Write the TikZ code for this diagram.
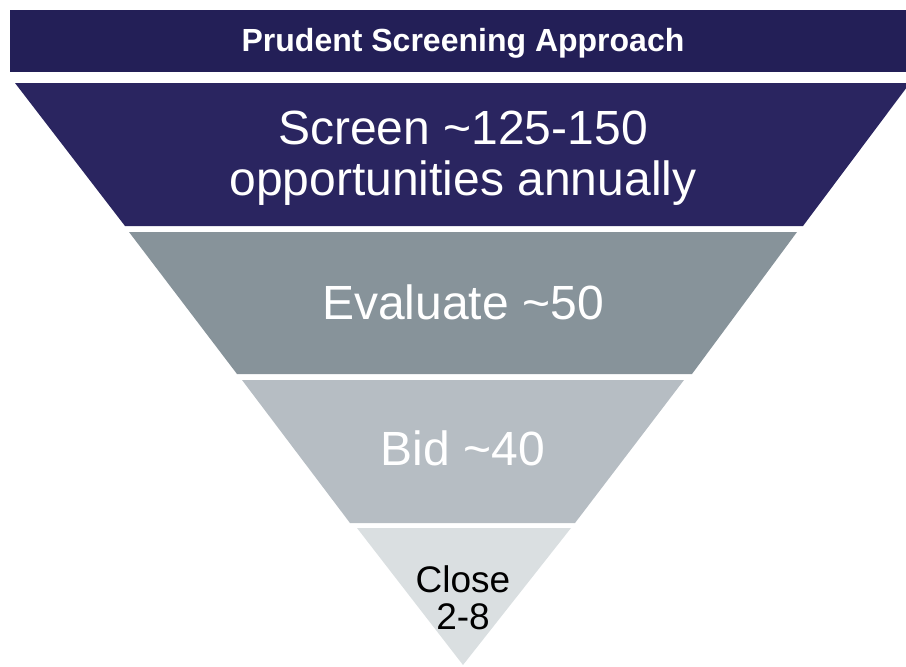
\documentclass[tikz,border=0pt]{standalone}
\usepackage{fontspec}
\setmainfont{Liberation Sans}
\usepackage{tikz}
\usetikzlibrary{positioning}

\definecolor{titleblue}{HTML}{231F57}
\definecolor{bandA}{HTML}{2A2560}
\definecolor{bandB}{HTML}{87939A}
\definecolor{bandC}{HTML}{B6BDC3}
\definecolor{bandD}{HTML}{DADFE1}

\begin{document}
\begin{tikzpicture}[x=1pt, y=-1pt,
        bandtext/.style={text=white, align=center, font=\fontsize{48}{51}\selectfont, anchor=base, inner sep=0pt},
        tiptext/.style={text=black, align=center, font=\fontsize{37}{37}\selectfont, anchor=base, inner sep=0pt}]
        \useasboundingbox (0,0) rectangle (906,667);

        % Title bar
        \node [rectangle, fill=titleblue, minimum width=906pt, minimum height=62pt, text=white,
               text height=23pt, text depth=3pt,
               font=\fontsize{32}{36}\selectfont\bfseries] (TitleBar) at (463,41) {Prudent Screening Approach};

        % Funnel bands: top y / bottom y / top-left, top-right, bottom-right, bottom-left x
        \foreach \yt/\yb/\xa/\xb/\xc/\xd/\col in {83/226/15/910/803/125/bandA,
                232/374/129/797/692/237/bandB,
                380/523/242/684/575/350/bandC,
                528/665/357/571/463/463/bandD}{
            \fill [\col] (\xa,\yt) -- (\xb,\yt) -- (\xc,\yb) -- (\xd,\yb) -- cycle;
        }

        % Labels (base = last line)
        \node [bandtext] (Screen) at (463,195) {Screen \textasciitilde125-150\\opportunities annually};
        \node [bandtext] (Evaluate) at (463,319) {Evaluate \textasciitilde50};
        \node [bandtext] (Bid) at (463,465) {Bid \textasciitilde40};
        \node [tiptext] (Close) at (463,629) {Close\\2-8};
    \end{tikzpicture}
\end{document}
